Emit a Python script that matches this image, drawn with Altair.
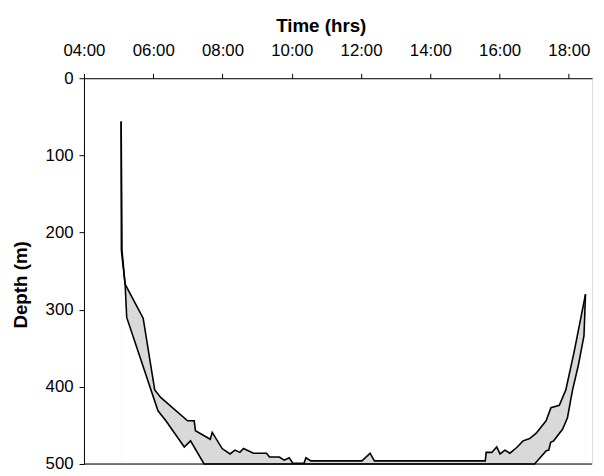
import altair as alt
import pandas as pd

# Shallow (upper) boundary of the layer: time in decimal hours, depth in m
shallow_time = [5.074, 5.097, 5.188, 5.709, 6.043, 6.222, 6.991, 7.182, 7.219, 7.647,
                7.704, 7.989, 8.217, 8.359, 8.501, 8.607, 8.892, 9.271, 9.356, 9.641,
                9.783, 9.926, 10.031, 10.353, 10.410, 10.553, 12.026, 12.262, 12.385, 15.587,
                15.613, 15.775, 15.917, 16.014, 16.154, 16.297, 16.487, 16.678, 16.869, 17.057,
                17.342, 17.484, 17.724, 17.912, 18.151, 18.481]
shallow_depth = [56, 223, 267, 311, 404, 414, 444, 444, 457, 468,
                 459, 480, 487, 482, 485, 480, 486, 486, 491, 491,
                 495, 492, 499, 499, 492, 496, 496, 486, 496, 496,
                 485, 485, 478, 487, 482, 486, 479, 470, 467, 460,
                 444, 427, 424, 404, 355, 280]

# Deep (lower) boundary of the layer
deep_time = [5.074, 5.080, 5.188, 5.234, 6.137, 6.365, 6.897, 7.077, 7.467, 17.011,
             17.342, 17.419, 17.476, 17.561, 17.818, 17.960, 18.103, 18.274, 18.436, 18.481]
deep_depth = [56, 223, 267, 310, 431, 444, 478, 470, 500, 500,
              483, 482, 472, 470, 455, 440, 405, 372, 334, 280]

x_ticks = [4, 6, 8, 10, 12, 14, 16, 18]
y_ticks = [0, 100, 200, 300, 400, 500]
max_depth = 500

FONT = "Liberation Sans"

shallow = pd.DataFrame({"t": shallow_time, "d": shallow_depth, "base": max_depth})
deep = pd.DataFrame({"t": deep_time, "d": deep_depth, "base": max_depth})

xscale = alt.Scale(domain=[4, 18.67], nice=False, zero=False)
yscale = alt.Scale(domain=[0, 500], reverse=True, nice=False)

x_enc = alt.X("t:Q", scale=xscale,
              axis=alt.Axis(orient="top", title="Time (hrs)", values=x_ticks,
                            labelExpr="(datum.value < 10 ? '0' : '') + datum.value + ':00'",
                            grid=False, tickSize=5, labelPadding=14, titlePadding=6,
                            titleX=240, domainColor="black", tickColor="black",
                            labelFlush=False, labelOverlap=False,
                            labelFontSize=17, titleFontSize=19, labelFont=FONT, titleFont=FONT,
                            labelColor="black", titleColor="black", zindex=1))
y_enc = alt.Y("d:Q", scale=yscale,
              axis=alt.Axis(title="Depth (m)", values=y_ticks, grid=False, tickSize=5,
                            labelPadding=6, titleX=-54, titleY=209, domainColor="black",
                            labelFlush=False, labelOverlap=False,
                            tickColor="black", labelFontSize=17, titleFontSize=19,
                            labelFont=FONT, titleFont=FONT, labelColor="black",
                            titleColor="black", zindex=1))

band = alt.Chart(shallow).mark_area(color="#d9d9d9", opacity=1).encode(
    x=x_enc, y=y_enc, y2="base:Q")
under = alt.Chart(deep).mark_area(color="white", opacity=1).encode(
    x="t:Q", y="d:Q", y2="base:Q")
line_s = alt.Chart(shallow).mark_line(color="black", strokeWidth=1.6).encode(
    x="t:Q", y="d:Q")
line_d = alt.Chart(deep).mark_line(color="black", strokeWidth=1.6).encode(
    x="t:Q", y="d:Q")
bottom = alt.Chart(pd.DataFrame({"d": [max_depth]})).mark_rule(
    color="black", strokeWidth=1.2).encode(y="d:Q")

chart = alt.layer(band, under, line_s, line_d, bottom).properties(
    width=515, height=391, autosize="none",
    padding={"left": 77, "top": 68, "right": 4, "bottom": 9},
).configure_view(stroke=None).configure(background="white")

chart.save("out.html", embed_options={"renderer": "svg", "actions": False})
